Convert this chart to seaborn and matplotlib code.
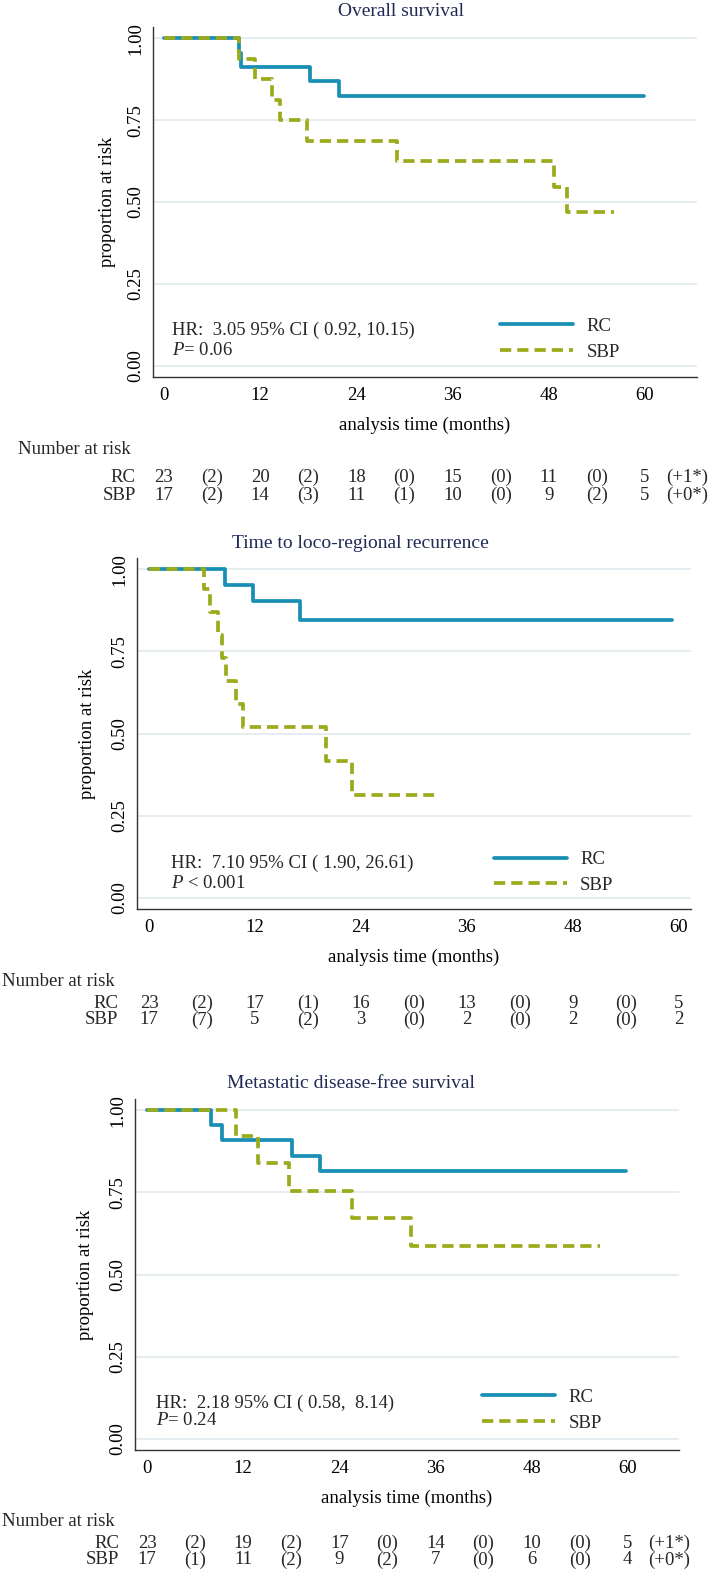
import numpy as np
import pandas as pd
import matplotlib
matplotlib.use("Agg")
import matplotlib.pyplot as plt
import matplotlib.transforms as mtransforms
import seaborn as sns

# Kaplan-Meier step curves (months, proportion)
os_rc_t = [0, 9.3, 9.6, 18.2, 21.8, 59.9]
os_rc_s = [1.0, 0.957, 0.913, 0.869, 0.824, 0.824]
os_sbp_t = [0, 9.4, 11.3, 13.5, 14.5, 17.8, 29.1, 48.6, 50.3, 56.2]
os_sbp_s = [1.0, 0.9375, 0.875, 0.8125, 0.75, 0.6875, 0.625, 0.547, 0.469, 0.469]

lr_rc_t = [0, 8.6, 11.8, 17.1, 59.3]
lr_rc_s = [1.0, 0.952, 0.905, 0.846, 0.846]
lr_sbp_t = [0, 6.2, 6.9, 7.8, 8.3, 8.7, 9.8, 10.6, 20.0, 23.0, 32.3]
lr_sbp_s = [1.0, 0.941, 0.871, 0.80, 0.73, 0.66, 0.59, 0.52, 0.416, 0.312, 0.312]

md_rc_t = [0, 8.0, 9.3, 18.1, 21.6, 59.8]
md_rc_s = [1.0, 0.957, 0.911, 0.862, 0.814, 0.814]
md_sbp_t = [0, 11.1, 13.8, 17.7, 25.6, 33.0, 56.6]
md_sbp_s = [1.0, 0.921, 0.84, 0.756, 0.671, 0.588, 0.588]

# number at risk tables (columns every 6 months, 0..60)
risk_times = [0, 6, 12, 18, 24, 30, 36, 42, 48, 54, 60]
os_risk_rc = ["23", "(2)", "20", "(2)", "18", "(0)", "15", "(0)", "11", "(0)", "5"]
os_risk_sbp = ["17", "(2)", "14", "(3)", "11", "(1)", "10", "(0)", "9", "(2)", "5"]
lr_risk_rc = ["23", "(2)", "17", "(1)", "16", "(0)", "13", "(0)", "9", "(0)", "5"]
lr_risk_sbp = ["17", "(7)", "5", "(2)", "3", "(0)", "2", "(0)", "2", "(0)", "2"]
md_risk_rc = ["23", "(2)", "19", "(2)", "17", "(0)", "14", "(0)", "10", "(0)", "5"]
md_risk_sbp = ["17", "(1)", "11", "(2)", "9", "(2)", "7", "(0)", "6", "(0)", "4"]

titles = ["Overall survival", "Time to loco-regional recurrence",
          "Metastatic disease-free survival"]
hr_texts = ["HR:  3.05 95% CI ( 0.92, 10.15)", "HR:  7.10 95% CI ( 1.90, 26.61)",
            "HR:  2.18 95% CI ( 0.58,  8.14)"]
p_texts = ["$P$= 0.06", "$P$ < 0.001", "$P$= 0.24"]

sns.set_theme(style="white")
plt.rcParams["font.family"] = ["Liberation Serif", "DejaVu Serif"]
plt.rcParams["mathtext.fontset"] = "custom"
plt.rcParams["mathtext.rm"] = "Liberation Serif"
plt.rcParams["mathtext.it"] = "Liberation Serif:italic"

W, H = 709, 1577
fig = plt.figure(figsize=(W / 100, H / 100), dpi=100)

blue = "#1a8fb5"
green = "#9bab1c"
navy = "#1f2a55"
fs = 13.5

# panel geometry in pixels: left, right, top, bottom, xlim, title pos, NaR x, ylabel x
panels = [
    dict(l=153, r=697, t=27, b=377, xlim=(-1.37, 66.5), tx=401, ty=12, nar=18, ylx=107,
         rows=(72, 100, 118),
         rc=(os_rc_t, os_rc_s), sbp=(os_sbp_t, os_sbp_s),
         risk=(os_risk_rc, os_risk_sbp), extra=("(+1*)", "(+0*)"),
         leg=(0.638, 0.169), hr=(0.035, 0.134, 0.077)),
    dict(l=137, r=691, t=558, b=909, xlim=(-1.36, 61.4), tx=360, ty=543, nar=2, ylx=88,
         rows=(72, 94, 111),
         rc=(lr_rc_t, lr_rc_s), sbp=(lr_sbp_t, lr_sbp_s),
         risk=(lr_risk_rc, lr_risk_sbp), extra=None,
         leg=(0.644, 0.165), hr=(0.061, 0.131, 0.074)),
    dict(l=135, r=679, t=1099, b=1450, xlim=(-1.5, 66.4), tx=351, ty=1083, nar=2, ylx=86,
         rows=(71, 93, 110),
         rc=(md_rc_t, md_rc_s), sbp=(md_sbp_t, md_sbp_s),
         risk=(md_risk_rc, md_risk_sbp), extra=("(+1*)", "(+0*)"),
         leg=(0.638, 0.174), hr=(0.039, 0.134, 0.085)),
]

for i, p in enumerate(panels):
    ax = fig.add_axes([p["l"] / W, 1 - p["b"] / H, (p["r"] - p["l"]) / W, (p["b"] - p["t"]) / H])
    ax.set_xlim(*p["xlim"])
    ax.set_ylim(-0.035, 1.035)

    df_rc = pd.DataFrame({"t": p["rc"][0], "s": p["rc"][1]})
    df_sbp = pd.DataFrame({"t": p["sbp"][0], "s": p["sbp"][1]})
    sns.lineplot(data=df_rc, x="t", y="s", ax=ax, color=blue, lw=2.7, estimator=None,
                 sort=False, drawstyle="steps-post", label="RC", zorder=3)
    sns.lineplot(data=df_sbp, x="t", y="s", ax=ax, color=green, lw=2.7, estimator=None,
                 sort=False, drawstyle="steps-post", linestyle=(0, (3, 1.6)),
                 label="SBP", zorder=4)

    ax.set_xticks([0, 12, 24, 36, 48, 60])
    ax.set_yticks([0, 0.25, 0.5, 0.75, 1.0])
    ax.set_yticklabels(["0.00", "0.25", "0.50", "0.75", "1.00"])
    ax.yaxis.grid(True, color="#e3ecef", lw=1.3)
    ax.xaxis.grid(False)
    for s in ["top", "right"]:
        ax.spines[s].set_visible(False)
    for s in ["left", "bottom"]:
        ax.spines[s].set_color("#333333")
        ax.spines[s].set_linewidth(1.0)
    ax.tick_params(axis="both", direction="in", length=6, width=1, color="#333333",
                   labelsize=fs, labelcolor="black")
    ax.tick_params(axis="x", pad=7)
    ax.tick_params(axis="y", pad=6, labelrotation=90)
    for lab in ax.get_yticklabels():
        lab.set_va("center")

    ax.set_xlabel("analysis time (months)", fontsize=fs, color="black")
    ax.xaxis.set_label_coords(0.5, -48 / (p["b"] - p["t"]))
    ax.xaxis.label.set_va("center")
    ax.set_ylabel("proportion at risk", fontsize=fs, color="black")
    ax.yaxis.set_label_coords((p["ylx"] - p["l"]) / (p["r"] - p["l"]), 0.5)
    ax.yaxis.label.set_va("center")

    fig.text(p["tx"] / W, 1 - p["ty"] / H, titles[i], ha="center", va="center",
             fontsize=fs + 0.5, color=navy)

    leg = ax.legend(loc="upper left", bbox_to_anchor=p["leg"], frameon=False,
                    fontsize=fs, handlelength=3.9, handletextpad=0.7,
                    labelspacing=0.45, borderpad=0, borderaxespad=0)

    hx, hy, py = p["hr"]
    ax.text(hx, hy, hr_texts[i], transform=ax.transAxes, fontsize=fs, va="center", ha="left")
    ax.text(hx, py, p_texts[i], transform=ax.transAxes, fontsize=fs, va="center", ha="left")

    # number at risk table
    trans = mtransforms.blended_transform_factory(ax.transData, fig.transFigure)
    d_nar, d_rc, d_sbp = p["rows"]
    y_nar = 1 - (p["b"] + d_nar) / H
    y_rc = 1 - (p["b"] + d_rc) / H
    y_sbp = 1 - (p["b"] + d_sbp) / H
    fig.text(p["nar"] / W, y_nar, "Number at risk", fontsize=fs, ha="left", va="center")
    ax.text(-3.5, y_rc, "RC", transform=trans, fontsize=fs, ha="right", va="center")
    ax.text(-3.5, y_sbp, "SBP", transform=trans, fontsize=fs, ha="right", va="center")
    for t, a, b in zip(risk_times, p["risk"][0], p["risk"][1]):
        ax.text(t, y_rc, a, transform=trans, fontsize=fs, ha="center", va="center")
        ax.text(t, y_sbp, b, transform=trans, fontsize=fs, ha="center", va="center")
    if p["extra"] is not None:
        ax.text(62.6, y_rc, p["extra"][0], transform=trans, fontsize=fs, ha="left", va="center")
        ax.text(62.6, y_sbp, p["extra"][1], transform=trans, fontsize=fs, ha="left", va="center")

fig.savefig("out.png", dpi=100)
